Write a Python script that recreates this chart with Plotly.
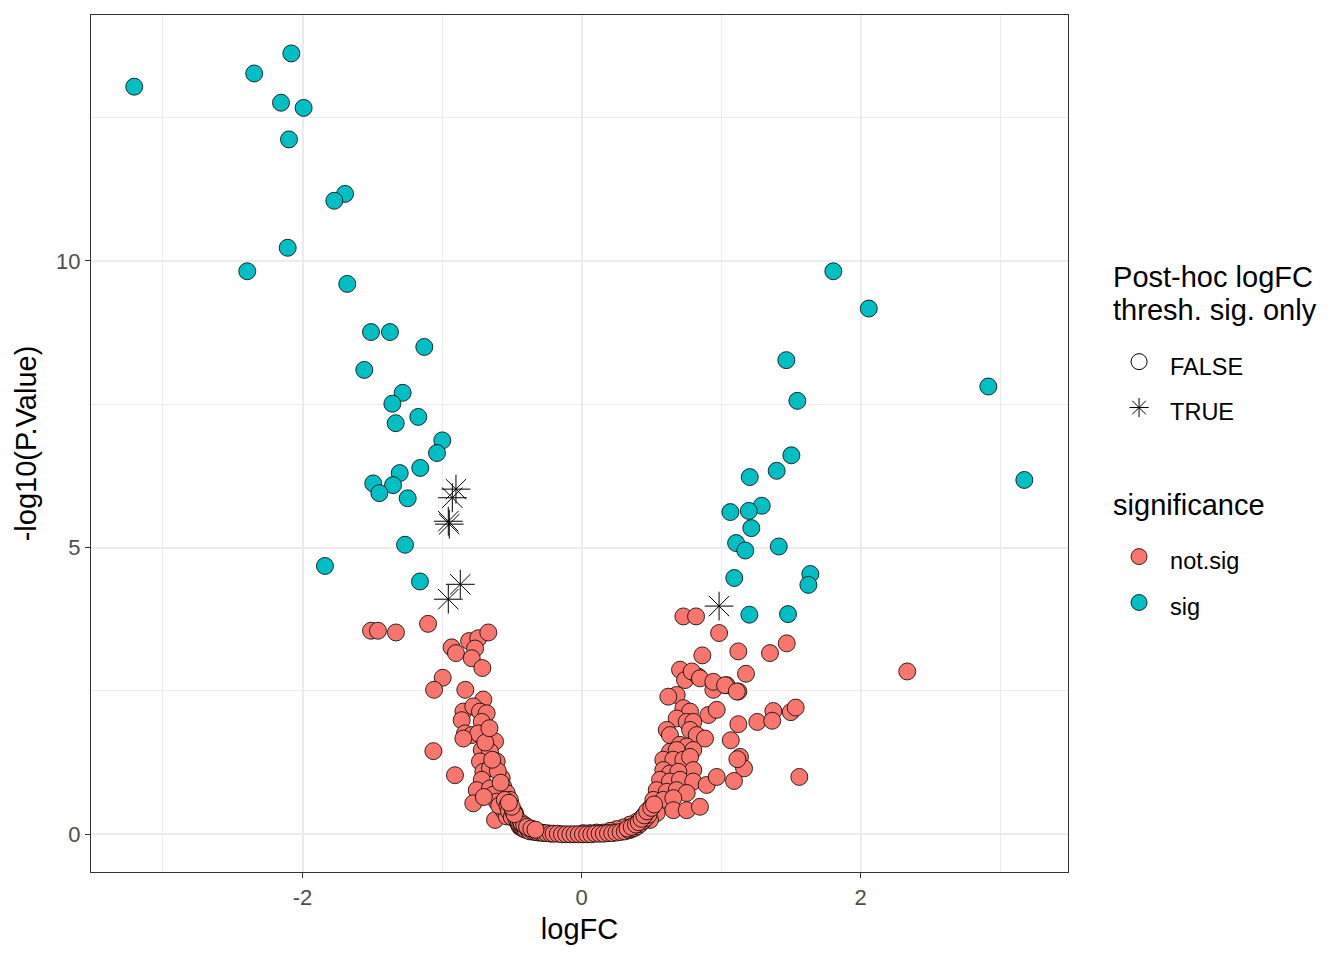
import plotly.graph_objects as go

# significant genes (circles, teal)
sig_logfc = [-3.206, -2.346, -2.080, -2.154, -1.992, -2.097, -1.695, -1.772, -2.106, -2.396,
             -1.679, -1.509, -1.373, -1.127, -1.557, -1.282, -1.356, -1.170, -1.332, -0.998,
             -1.036, -1.156, -1.303, -1.493, -1.351, -1.449, -1.246, -1.265, -1.839, -1.158,
             1.805, 2.059, 1.468, 2.916, 1.547, 1.504, 1.399, 1.206, 3.174, 1.292,
             1.067, 1.199, 1.217, 1.108, 1.174, 1.414, 1.640, 1.626, 1.095, 1.203, 1.480]
sig_p = [13.04, 13.27, 13.62, 12.76, 12.67, 12.12, 11.17, 11.05, 10.23, 9.82,
         9.60, 8.76, 8.76, 8.50, 8.10, 7.70, 7.51, 7.28, 7.17, 6.87,
         6.65, 6.39, 6.30, 6.12, 6.09, 5.95, 5.86, 5.05, 4.68, 4.41,
         9.82, 9.17, 8.27, 7.81, 7.56, 6.61, 6.34, 6.23, 6.18, 5.73,
         5.62, 5.64, 5.34, 5.08, 4.95, 5.02, 4.54, 4.35, 4.47, 3.83, 3.84]

# post-hoc logFC threshold significant only (asterisks)
thr_logfc = [-0.900, -0.926, -0.955, -0.948, -0.869, -0.955, 0.986]
thr_p = [6.02, 5.87, 5.46, 5.41, 4.36, 4.10, 3.98]

# not significant genes (circles, red)
ns_logfc = [
    -1.509, -1.459, -1.330, -1.100, -0.931, -0.900, -0.806, -0.740, -0.668, -0.763,
    -0.787, -0.711, -0.995, -1.057, -0.833, -0.704, -0.847, -0.776, -0.728, -0.680,
    -0.859, -0.715, -0.835, -0.787, -0.740, -0.847, -0.620, -0.715, -0.656, -1.062,
    -0.728, -0.608, -0.907, -0.704, -0.656, -0.715, -0.572, -0.751, -0.656, -0.561,
    -0.536, -0.776, -0.632, -0.608, -0.513, -0.620, -0.561, -0.536, -0.500, -0.477,
    -0.465, -0.441, -0.393, -0.346, -0.690, -0.660, -0.600, -0.580, -0.640, -0.700,
    -0.590, -0.550, -0.530, -0.520, -0.500,
    0.730, 0.821, 0.986, 0.866, 1.124, 1.351, 1.471, 1.179, 0.706, 0.742,
    0.837, 0.945, 1.041, 1.124, 0.682, 0.730, 0.778, 0.909, 0.969, 0.682,
    0.754, 0.801, 1.124, 1.260, 1.375, 1.500, 1.535, 2.335, 0.611, 0.778,
    0.634, 0.826, 0.885, 1.070, 0.706, 0.754, 0.801, 0.634, 0.682, 1.136,
    1.165, 0.586, 0.658, 0.730, 0.778, 0.801, 0.586, 0.634, 0.694, 0.563,
    0.634, 0.706, 0.801, 0.897, 0.969, 1.093, 1.561, 0.539, 0.611, 0.682,
    0.754, 0.515, 0.586, 0.658, 0.658, 0.754, 0.849, 0.491, 0.539, 0.443,
    0.491, 0.396, 0.348, 0.300, 0.252, 0.205, 0.157, 0.109, 0.061, 0.013,
    0.622, 0.790, 0.849, 0.945, 1.029, 1.113, 1.367, 1.117,
    -0.47, -0.46, -0.45, -0.44, -0.43, -0.42, -0.41, -0.40, -0.38, -0.37,
    -0.35, -0.33, -0.31, -0.29, -0.27, -0.25, -0.22, -0.20, -0.17, -0.14,
    -0.11, -0.08, -0.05, -0.02, 0.01, 0.04, 0.07, 0.10, 0.13, 0.16,
    0.19, 0.22, 0.25, 0.28, 0.31, 0.34, 0.36, 0.38, 0.40, 0.42,
    0.44, 0.46, 0.48, -0.43, -0.41, -0.39, -0.36, -0.33, 0.33, 0.36,
    0.39, 0.41, 0.43, 0.45, 0.47, -0.49, -0.48, -0.50, -0.52, 0.50, 0.52,
]
ns_p = [
    3.55, 3.55, 3.52, 3.67, 3.26, 3.16, 3.37, 3.42, 3.52, 3.24,
    3.07, 2.90, 2.73, 2.52, 2.52, 2.35, 2.14, 2.23, 2.14, 2.11,
    1.99, 1.96, 1.76, 1.73, 1.76, 1.67, 1.62, 1.47, 1.44, 1.45,
    1.27, 1.27, 1.03, 1.09, 1.15, 0.95, 0.98, 0.77, 0.80, 0.83,
    0.72, 0.54, 0.69, 0.57, 0.60, 0.25, 0.42, 0.31, 0.45, 0.37,
    0.25, 0.13, 0.08, 0.05, 1.60, 1.85, 1.10, 0.90, 1.30, 0.65,
    0.50, 0.60, 0.50, 0.40, 0.30,
    3.80, 3.80, 3.51, 3.12, 3.19, 3.16, 3.33, 2.80, 2.87, 2.69,
    2.75, 2.52, 2.60, 2.49, 2.43, 2.20, 2.14, 2.08, 2.17, 2.02,
    1.96, 1.96, 1.92, 1.96, 2.15, 2.13, 2.21, 2.84, 1.82, 1.82,
    1.73, 1.73, 1.67, 1.64, 1.56, 1.53, 1.47, 1.44, 1.47, 1.35,
    1.15, 1.30, 1.30, 1.30, 1.35, 1.12, 1.12, 1.06, 1.09, 0.95,
    0.92, 0.95, 0.92, 0.86, 1.00, 0.93, 1.00, 0.77, 0.74, 0.77,
    0.72, 0.60, 0.60, 0.63, 0.42, 0.42, 0.48, 0.45, 0.37, 0.31,
    0.25, 0.22, 0.17, 0.12, 0.09, 0.06, 0.03, 0.03, 0.02, 0.02,
    2.40, 2.84, 2.72, 2.66, 2.60, 2.49, 1.98, 1.31,
    0.30, 0.22, 0.18, 0.14, 0.12, 0.10, 0.09, 0.08, 0.07, 0.05,
    0.05, 0.04, 0.03, 0.03, 0.02, 0.02, 0.01, 0.01, 0.01, 0.00,
    0.00, 0.00, 0.00, 0.00, 0.00, 0.00, 0.00, 0.01, 0.01, 0.01,
    0.02, 0.02, 0.03, 0.04, 0.05, 0.07, 0.09, 0.11, 0.14, 0.18,
    0.23, 0.28, 0.34, 0.20, 0.16, 0.13, 0.10, 0.08, 0.10, 0.13,
    0.17, 0.21, 0.27, 0.33, 0.40, 0.40, 0.35, 0.48, 0.55, 0.46, 0.52,
]

x_ticks = [-2, 0, 2]
x_ticklabels = ["-2", "0", "2"]
y_ticks = [0, 5, 10]

RED = "#F8766D"
TEAL = "#00BFC4"
FONT = "Liberation Sans, Arial, sans-serif"


def lbl(text, size):
    # smaller visible text inside a taller legend row
    return f"<span style='font-size:{size}px'>{text}</span>"


def ttl(text):
    # group title text, lifted a little above its row
    return f"<sup>{lbl(text, 29)}</sup>"


fig = go.Figure()

fig.add_trace(go.Scatter(
    x=ns_logfc, y=ns_p, mode="markers",
    marker=dict(size=17, color=RED, line=dict(color="black", width=0.8)),
    showlegend=False, hoverinfo="x+y"
))
fig.add_trace(go.Scatter(
    x=sig_logfc, y=sig_p, mode="markers",
    marker=dict(size=17, color=TEAL, line=dict(color="black", width=0.8)),
    showlegend=False, hoverinfo="x+y"
))
fig.add_trace(go.Scatter(
    x=thr_logfc, y=thr_p, mode="markers",
    marker=dict(symbol="asterisk-open", size=24, color="black",
                line=dict(color="black", width=1)),
    showlegend=False, hoverinfo="x+y"
))

# legend entries
title1 = ttl("Post-hoc logFC") + "<br>" + ttl("thresh. sig. only")
fig.add_trace(go.Scatter(
    x=[None], y=[None], mode="markers", name=lbl("FALSE", 23.5),
    legendgroup="thr", legendgrouptitle=dict(text=title1, font=dict(size=25.5, color="black")),
    marker=dict(symbol="circle", size=16, color="white", line=dict(color="black", width=1))
))
fig.add_trace(go.Scatter(
    x=[None], y=[None], mode="markers", name=lbl("TRUE", 23.5), legendgroup="thr",
    marker=dict(symbol="asterisk-open", size=18, color="black", line=dict(color="black", width=1))
))
fig.add_trace(go.Scatter(
    x=[None], y=[None], mode="markers", name=lbl("not.sig", 23.5),
    legendgroup="sig", legendgrouptitle=dict(text=ttl("significance"),
                                             font=dict(size=25.5, color="black")),
    marker=dict(symbol="circle", size=16, color=RED, line=dict(color="black", width=0.8))
))
fig.add_trace(go.Scatter(
    x=[None], y=[None], mode="markers", name=lbl("sig", 23.5), legendgroup="sig",
    marker=dict(symbol="circle", size=16, color=TEAL, line=dict(color="black", width=0.8))
))

axis_common = dict(
    showgrid=True, gridcolor="#EBEBEB", gridwidth=2, zeroline=False,
    showline=True, mirror=True, linecolor="#333333", linewidth=1.3,
    ticks="outside", ticklen=5, tickcolor="#333333", tickwidth=1.3,
    tickfont=dict(size=22, color="#4D4D4D", family=FONT),
)

fig.update_layout(
    width=1336, height=952,
    margin=dict(l=83, r=276, t=7, b=88),
    plot_bgcolor="white", paper_bgcolor="white",
    font=dict(family=FONT, color="black"),
    xaxis=dict(**axis_common, range=[-3.516, 3.487], tickvals=x_ticks, ticktext=x_ticklabels,
               minor=dict(dtick=1, tick0=1, showgrid=True, gridcolor="#EBEBEB", gridwidth=1, ticks=""),
               title=dict(text="logFC", font=dict(size=29, color="black"), standoff=10)),
    yaxis=dict(**axis_common, range=[-0.658, 14.29], tickvals=y_ticks,
               minor=dict(dtick=2.5, tick0=0, showgrid=True, gridcolor="#EBEBEB", gridwidth=1, ticks=""),
               title=dict(text="-log10(P.Value)", font=dict(size=29, color="black"), standoff=10)),
    legend=dict(x=1.041, y=0.709, xanchor="left", yanchor="top",
                font=dict(size=33, color="black"), tracegroupgap=67,
                itemwidth=52, bgcolor="rgba(0,0,0,0)"),
)

fig.write_html("out.html")
